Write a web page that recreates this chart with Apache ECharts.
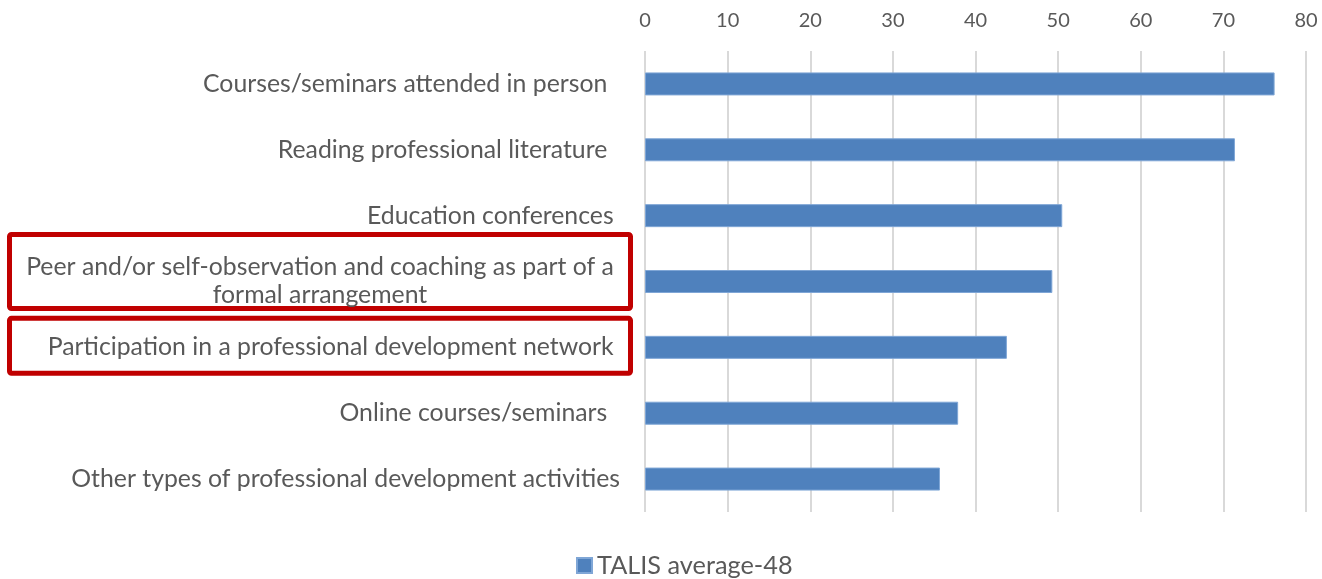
<!DOCTYPE html>
<html>
<head>
<meta charset="utf-8">
<script src="https://cdn.jsdelivr.net/npm/echarts@6/dist/echarts.min.js"></script>
<style>html,body{margin:0;padding:0;background:#fff}#c{width:1322px;height:579px}</style>
</head>
<body>
<div id="c"></div>
<script>
const categories = [
  "Courses/seminars attended in person  ",
  "Reading professional literature  ",
  "Education conferences ",
  "Peer and/or self-observation and coaching as part of a\nformal arrangement",
  "Participation in a professional development network ",
  "Online courses/seminars  ",
  "Other types of professional development activities"
];
const values = [76.2, 71.4, 50.5, 49.3, 43.8, 37.9, 35.7];
const seriesName = "TALIS average-48";
const xTicks = [0, 10, 20, 30, 40, 50, 60, 70, 80];

const FONT = "Lato";
const GREY = "#595959";
const LABEL_SIZE = 24.8;
const chart = echarts.init(document.getElementById('c'), null, {renderer: 'canvas'});
chart.setOption({
  animation: false,
  backgroundColor: '#fff',
  grid: {left: 645, right: 16, top: 51, bottom: 67, containLabel: false, outerBoundsMode: 'none'},
  legend: {
    data: [seriesName], top: 553, left: 576,
    icon: 'rect', itemWidth: 15, itemHeight: 15, itemGap: 7, padding: 0,
    textStyle: {color: GREY, fontSize: 25.3, fontFamily: FONT}
  },
  xAxis: {
    type: 'value', position: 'top', min: xTicks[0], max: xTicks[xTicks.length-1], interval: 10,
    axisLine: {show: false}, axisTick: {show: false},
    axisLabel: {color: GREY, fontSize: 20, fontFamily: FONT, margin: 20},
    splitLine: {show: true, lineStyle: {color: '#d9d9d9', width: 2}}
  },
  yAxis: {
    type: 'category', data: categories, inverse: true,
    axisLine: {show: false}, axisTick: {show: false},
    axisLabel: {
      margin: 25, color: GREY, fontSize: LABEL_SIZE, fontFamily: FONT, lineHeight: 28,
      formatter: function (v) {
        if (v.indexOf('\n') >= 0) {
          return v.split('\n').map(s => '{c|' + s + '}').join('\n');
        }
        return v;
      },
      rich: {c: {width: 600, align: 'center', color: GREY, fontSize: LABEL_SIZE, fontFamily: FONT, lineHeight: 28}}
    }
  },
  series: [{
    name: seriesName, type: 'bar', data: values, barWidth: 23,
    itemStyle: {color: '#4F81BD', borderColor: '#7FA6D6', borderWidth: 1}
  }]
});

const c3 = chart.convertToPixel({yAxisIndex: 0}, categories[3]);
const c4 = chart.convertToPixel({yAxisIndex: 0}, categories[4]);
const boxStyle = {fill: 'none', stroke: '#C00000', lineWidth: 5};
chart.setOption({
  graphic: [
    {type: 'rect', shape: {x: 9.5, y: c3 - 47, width: 621, height: 74, r: 2}, style: boxStyle},
    {type: 'rect', shape: {x: 9.5, y: c4 - 29, width: 621, height: 55, r: 2}, style: boxStyle}
  ]
});
</script>
</body>
</html>
